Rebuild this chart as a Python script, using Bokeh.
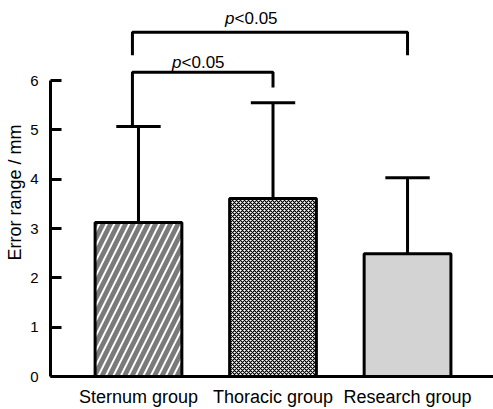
from bokeh.plotting import figure
from bokeh.models import FixedTicker, Range1d
from bokeh.core.properties import value
from bokeh.embed import file_html
from bokeh.resources import INLINE

# ---- data ----
groups = ["Sternum group", "Thoracic group", "Research group"]
means = [3.12, 3.61, 2.49]
sds = [1.95, 1.94, 1.54]
y_ticks = [0, 1, 2, 3, 4, 5, 6]
y_label = "Error range / mm"
sig_label = "<0.05"

xs = list(range(len(groups)))
tops = [m + s for m, s in zip(means, sds)]

FONT = "Liberation Sans"

p = figure(width=493, height=409, output_backend="svg", toolbar_location=None,
           x_range=Range1d(-0.654, 2.639), y_range=Range1d(0, 7.46),
           min_border_left=50, min_border_right=0, min_border_top=8, min_border_bottom=33)
p.outline_line_color = None
p.xgrid.visible = False
p.ygrid.visible = False
p.background_fill_color = "white"

# error bar stems and caps
p.segment(x0=xs, y0=means, x1=xs, y1=tops, line_color="black", line_width=3)
p.segment(x0=[x - 0.165 for x in xs], y0=tops, x1=[x + 0.165 for x in xs], y1=tops,
          line_color="black", line_width=3)

bw = 0.645
# Sternum: diagonal stripes
p.vbar(x=[xs[0]], top=[means[0]], bottom=0, width=bw, fill_color="white",
       hatch_pattern="/", hatch_color="#7a7a7a", hatch_scale=15, hatch_weight=4.8,
       line_color="black", line_width=3)
# Thoracic: checker-like
p.vbar(x=[xs[1]], top=[means[1]], bottom=0, width=bw, fill_color="white",
       hatch_pattern="x", hatch_color="black", hatch_scale=4, hatch_weight=1.2,
       line_color="black", line_width=3)
# Research: light gray
p.vbar(x=[xs[2]], top=[means[2]], bottom=0, width=bw, fill_color="#d3d3d3",
       line_color="black", line_width=3)

# significance brackets
lx = xs[0] - 0.045
y_low = 6.17
p.line(x=[lx, lx, xs[1], xs[1]], y=[tops[0], y_low, y_low, 5.86],
       line_color="black", line_width=3)
y_up = 6.98
p.line(x=[lx, lx, xs[2], xs[2]], y=[6.51, y_up, y_up, 6.51],
       line_color="black", line_width=3)

def sig(x, y):
    p.text(x=[x], y=[y], text=["p"], text_font=value(FONT), text_font_style="italic",
           text_font_size="17px", text_align="right", text_baseline="alphabetic",
           text_color="black")
    p.text(x=[x], y=[y], text=[sig_label], text_font=value(FONT),
           text_font_size="17px", text_align="left", text_baseline="alphabetic",
           text_color="black")

sig(0.32, 6.37)
sig(0.714, 7.26)

# axes
p.xaxis.ticker = FixedTicker(ticks=xs)
p.xaxis.major_label_overrides = {i: g for i, g in enumerate(groups)}
p.xaxis.major_tick_in = 0
p.xaxis.major_tick_out = 0
p.xaxis.minor_tick_line_color = None
p.xaxis.axis_line_width = 3
p.xaxis.major_label_text_font = FONT
p.xaxis.major_label_text_font_size = "18px"
p.xaxis.major_label_text_color = "black"
p.xaxis.major_label_standoff = 10

p.yaxis.ticker = FixedTicker(ticks=y_ticks)
p.yaxis.bounds = (0, 6)
p.yaxis.major_tick_in = 11
p.yaxis.major_tick_out = 0
p.yaxis.major_tick_line_width = 3
p.yaxis.minor_tick_line_color = None
p.yaxis.axis_line_width = 3
p.yaxis.major_label_text_font = FONT
p.yaxis.major_label_text_font_size = "15px"
p.yaxis.major_label_text_color = "black"
p.yaxis.major_label_standoff = 12
p.yaxis.axis_label = y_label
p.yaxis.axis_label_text_font = FONT
p.yaxis.axis_label_text_font_size = "18px"
p.yaxis.axis_label_text_font_style = "normal"
p.yaxis.axis_label_text_color = "black"
p.yaxis.axis_label_standoff = 2

open("out.html", "w").write(file_html(p, INLINE))
